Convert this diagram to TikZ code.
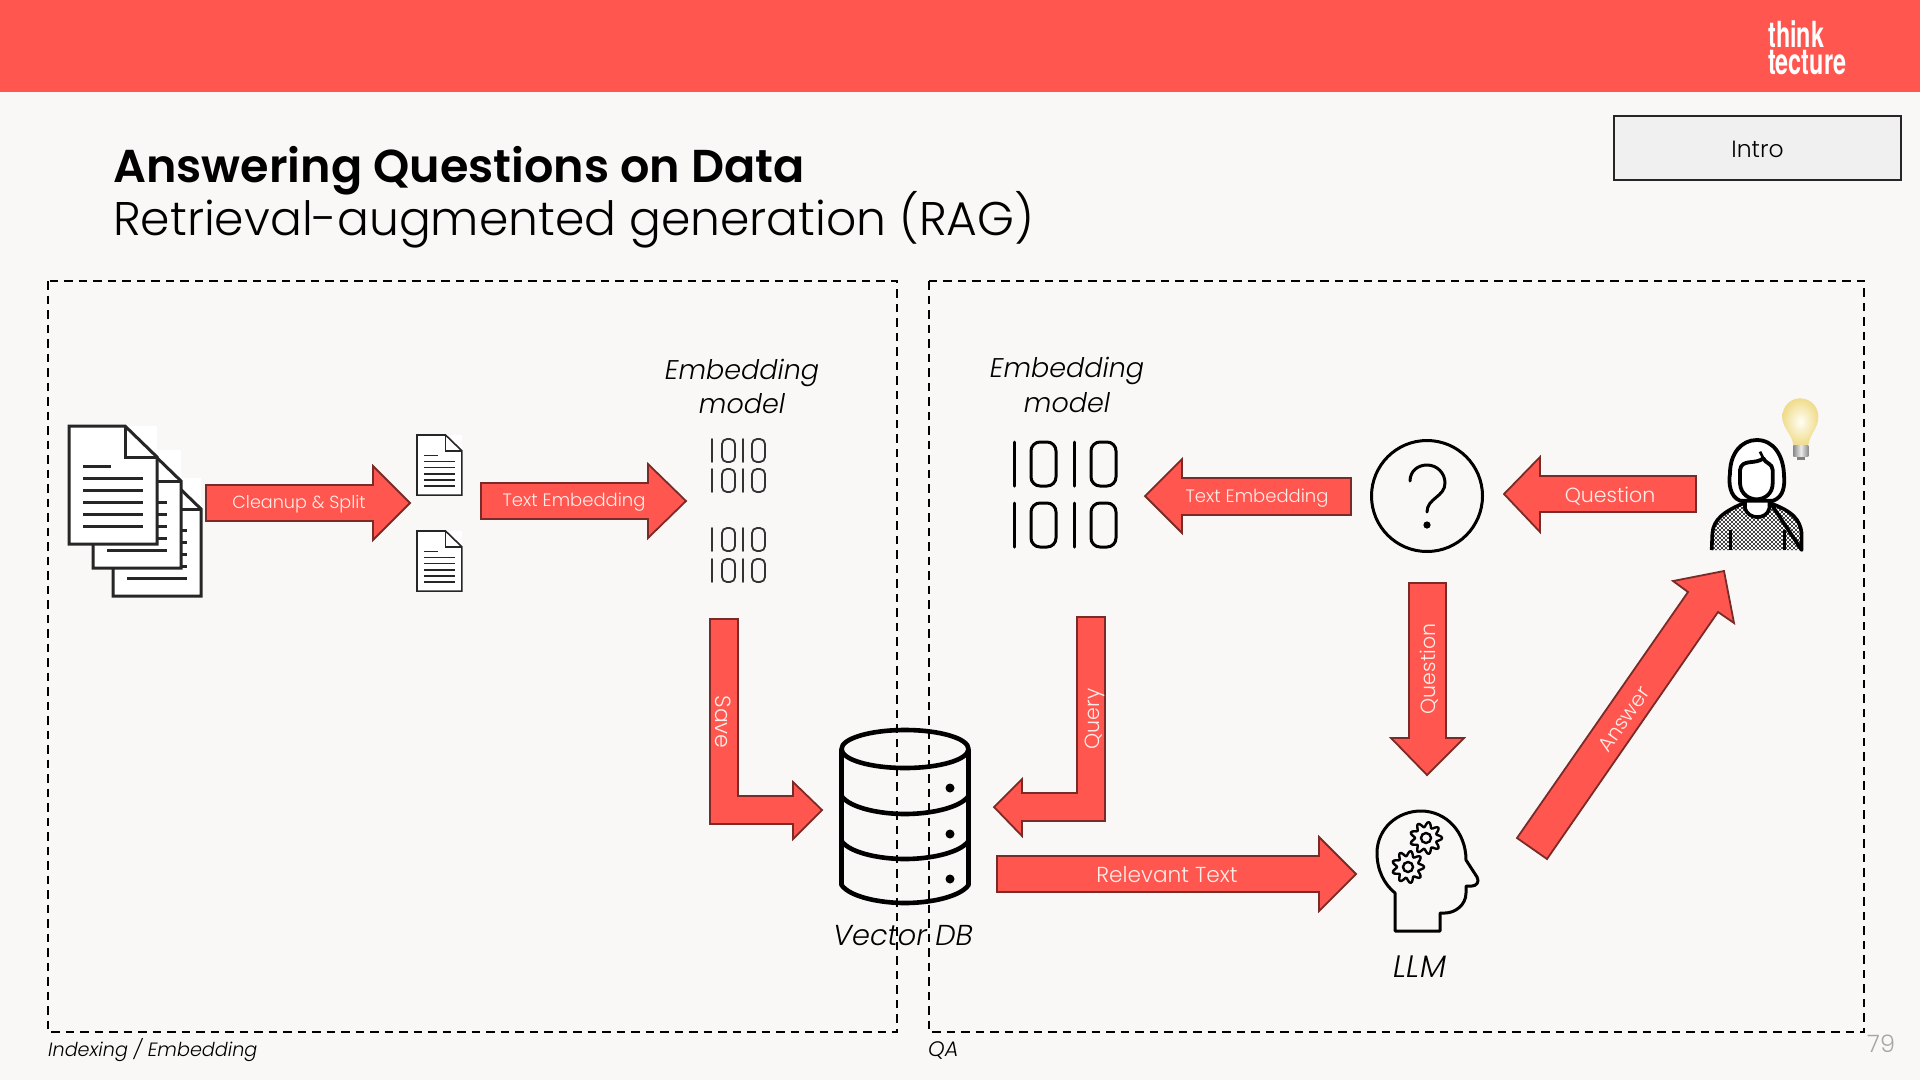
\documentclass[tikz,border=0pt]{standalone}
\usepackage{fontspec}
\setmainfont{Poppins Light}[ItalicFont=Poppins Light Italic,BoldFont=Poppins SemiBold]
\newfontfamily\logofont{TeX Gyre Heros}[Scale=1]
\definecolor{bgc}{HTML}{F9F8F6}
\definecolor{redc}{HTML}{FF5650}
\definecolor{redline}{HTML}{7A2B27}
\definecolor{txtc}{HTML}{FFEDE8}
\definecolor{boxc}{HTML}{F0F0F0}
\definecolor{bulbin}{HTML}{FFFEF4}
\definecolor{bulbout}{HTML}{F0DC8C}
\newcommand{\fs}[1]{\fontsize{#1}{#1}\selectfont}
\newcommand{\docicon}[4]{%
  \begin{scope}[shift={(#1,#2)},scale=#3,line width=#4,line join=miter,black!85]
    \fill[white] (0,0) rectangle (88,118);
    \draw (0,0) -- (56,0) -- (88,31) -- (88,118) -- (0,118) -- cycle;
    \draw (56,0) -- (56,31) -- (88,31);
    \draw (14,40) -- (42,40);
    \foreach \yy in {52,64,76,88,100} {\draw (14,\yy) -- (74,\yy);}
  \end{scope}}
\newcommand{\binrow}[9]{%
  \begin{scope}[line width=#9,line cap=round]
    \draw (#3,#1) -- (#3,#2);
    \draw (#6,#1) -- (#6,#2);
    \draw[rounded corners=#8pt] (#4,#1) rectangle (#5,#2);
    \draw[rounded corners=#8pt] (#7,#1) rectangle (#7+#5-#4,#2);
  \end{scope}}
\newcommand{\gearicon}[2]{%
  \draw[line width=2.4,line join=round] plot[smooth cycle,samples=72,domain=0:355] ({#1+(13.5+2.6*cos(9*\x))*cos(\x)},{#2+(13.5+2.6*cos(9*\x))*sin(\x)});
  \draw[line width=2.4] (#1,#2) circle[radius=5];}
\tikzset{
  blockarrow/.style={fill=redc,draw=redline,line width=1.8,line join=miter},
  arrowlabel/.style={text=txtc,inner sep=0pt,font=\fs{18}},
  iconline/.style={line width=3,line join=round,line cap=round},
  modellabel/.style={align=center,inner sep=0pt,font=\fs{27}\itshape},
  framebox/.style={draw=black,line width=2.8,dash pattern=on 8.5pt off 6pt}
}
\begin{document}
\begin{tikzpicture}[x=1pt,y=-1pt]
\useasboundingbox (0,0) rectangle (1920,1080);
\fill[bgc] (0,0) rectangle (1920,1080);
\fill[redc] (0,0) rectangle (1920,92);
% logo
\node[anchor=base west,inner sep=0pt,text=white] (logoa) at (1768,47) {\logofont\bfseries\fs{36}\scalebox{.65}[1]{think}};
\node[anchor=base west,inner sep=0pt,text=white] (logob) at (1768,74) {\logofont\bfseries\fs{36}\scalebox{.65}[1]{tecture}};
% titles
\node[anchor=base west,inner sep=0pt] (title) at (113,182) {\fs{46.1}\bfseries Answering Questions on Data};
\node[anchor=base west,inner sep=0pt] (subtitle) at (113,235) {\fs{47.2}Retrieval-augmented generation (RAG)};
\node[draw=black!85,fill=boxc,line width=2.6,minimum width=287,minimum height=64,inner sep=0pt] (intro) at (1757.5,148) {};
\node[inner sep=0pt,font=\fs{23.5}] (introtext) at (1757.5,149) {Intro};
% documents
\docicon{113}{478}{1}{3}
\docicon{93}{450}{1}{3}
\docicon{69}{426}{1}{3}
\docicon{417}{435}{.51}{1.6}
\docicon{417}{531}{.51}{1.6}
% small binaries
\begin{scope}[black!80]
\binrow{439}{462}{712}{722}{735}{743}{752}{5}{1.8}
\binrow{469}{492}{712}{722}{735}{743}{752}{5}{1.8}
\binrow{528}{551}{712}{722}{735}{743}{752}{5}{1.8}
\binrow{559}{582}{712}{722}{735}{743}{752}{5}{1.8}
\end{scope}
% large binaries
\binrow{442}{486}{1014}{1031}{1056}{1074}{1091}{9}{3}
\binrow{503}{547}{1014}{1031}{1056}{1074}{1091}{9}{3}
% labels
\node[modellabel,anchor=base] (ema) at (742,379) {Embedding};
\node[modellabel,anchor=base] (emb) at (742,413) {model};
\node[modellabel,anchor=base] (emc) at (1067,377) {Embedding};
\node[modellabel,anchor=base] (emd) at (1067,412) {model};
\node[modellabel,anchor=base,font=\fs{28.8}\itshape] (vdb) at (903,945) {Vector DB};
\node[modellabel,anchor=base,font=\fs{31}\itshape] (llm) at (1420,977) {LLM};
\node[anchor=base west,inner sep=0pt,font=\fs{19.2}\itshape] (lefttag) at (48,1056) {Indexing / Embedding};
\node[anchor=base west,inner sep=0pt,font=\fs{21}\itshape] (righttag) at (928,1056) {QA};
\node[anchor=base west,inner sep=0pt,font=\fs{24},text=black!35] (pageno) at (1867,1052) {79};
% block arrows
\draw[blockarrow] (206,485) -- (373,485) -- (373,466) -- (410,503) -- (373,540) -- (373,521) -- (206,521) -- cycle;
\node[arrowlabel,font=\fs{17.6}] (cleanup) at (299,504) {Cleanup \& Split};
\draw[blockarrow] (481,483) -- (648,483) -- (648,464) -- (686,501) -- (648,538) -- (648,519) -- (481,519) -- cycle;
\node[arrowlabel] (te1) at (574,502) {Text Embedding};
\draw[blockarrow] (710,619) -- (738,619) -- (738,796) -- (793,796) -- (793,782) -- (822,810) -- (793,839) -- (793,824) -- (710,824) -- cycle;
\node[arrowlabel,font=\fs{22},rotate=-90] (save) at (723,722) {Save};
\draw[blockarrow] (1105,617) -- (1077,617) -- (1077,793) -- (1022,793) -- (1022,779) -- (994,807) -- (1022,836) -- (1022,821) -- (1105,821) -- cycle;
\node[arrowlabel,font=\fs{20.5},rotate=90] (query) at (1095,719) {Query};
\draw[blockarrow] (997,856) -- (1319,856) -- (1319,837) -- (1356,874) -- (1319,911) -- (1319,892) -- (997,892) -- cycle;
\node[arrowlabel,font=\fs{21.7}] (rel) at (1167,875) {Relevant Text};
\draw[blockarrow] (1351,478) -- (1182,478) -- (1182,459) -- (1145,496) -- (1182,533) -- (1182,515) -- (1351,515) -- cycle;
\node[arrowlabel] (te2) at (1257,498) {Text Embedding};
\draw[blockarrow] (1696,476) -- (1540,476) -- (1540,457) -- (1504,494) -- (1540,532) -- (1540,512) -- (1696,512) -- cycle;
\node[arrowlabel,font=\fs{20.5}] (q1) at (1610,496) {Question};
\draw[blockarrow] (1409,583) -- (1446,583) -- (1446,738) -- (1464,738) -- (1427,775) -- (1391,738) -- (1409,738) -- cycle;
\node[arrowlabel,font=\fs{20.5},rotate=90] (q2) at (1429,669) {Question};
\draw[blockarrow] (1517,838) -- (1688,592) -- (1673,581) -- (1724,571) -- (1734,623) -- (1718,612) -- (1547,859) -- cycle;
\node[arrowlabel,font=\fs{20.5},rotate=55] (ans) at (1624,719) {Answer};
% database
\begin{scope}[line width=4.6,line join=round]
\draw (905,749) ellipse[x radius=63.5,y radius=19];
\draw (841.5,749) -- (841.5,885) .. controls (850,897) and (880,903) .. (905,903) .. controls (930,903) and (960,897) .. (968.5,885) -- (968.5,749);
\draw (841.5,796) .. controls (850,808) and (880,814) .. (905,814) .. controls (930,814) and (960,808) .. (968.5,796);
\draw (841.5,841) .. controls (850,853) and (880,859) .. (905,859) .. controls (930,859) and (960,853) .. (968.5,841);
\fill (950,788) circle[radius=4.5];
\fill (950,834) circle[radius=4.5];
\fill (950,879) circle[radius=4.5];
\end{scope}
% question icon
\draw[iconline] (1427,496) circle[radius=55.5];
\draw[iconline] (1410,481) .. controls (1410,471) and (1418,465) .. (1427,465) .. controls (1437,465) and (1445,473) .. (1445,483) .. controls (1445,497) and (1427,498) .. (1427,512);
\fill (1427,525) circle[radius=3.6];
% head with gears
\draw[iconline] (1395,931) -- (1395,893) .. controls (1384,884) and (1377,870) .. (1377,853) .. controls (1377,829) and (1397,811) .. (1421,811) .. controls (1446,811) and (1466,832) .. (1466,860) -- (1477,877) .. controls (1480,882) and (1476,886) .. (1472,886) -- (1466,886) -- (1466,893) .. controls (1466,905) and (1455,913) .. (1445,913) -- (1440,913) -- (1440,931) -- cycle;
\gearicon{1426}{838}
\gearicon{1408}{867}
% person
\begin{scope}[shift={(1680,380)},scale=1/3]
  \fill[white] (95,510) -- (97,460) .. controls (100,420) and (130,395) .. (190,370) -- (272,370) .. controls (340,395) and (360,420) .. (365,460) -- (365,510) -- cycle;
  \begin{scope}
    \clip (95,510) -- (97,460) .. controls (100,420) and (130,395) .. (190,370) -- (272,370) .. controls (340,395) and (360,420) .. (365,460) -- (365,510) -- cycle;
    \foreach \yy in {360,372,...,516} {
      \foreach \xx in {90,102,...,372} {
        \fill (\xx,\yy) circle[radius=3.1];
        \fill (\xx+6,\yy+6) circle[radius=3.1];
      }
    }
  \end{scope}
  \draw[line width=3.6,line join=round] (95,510) -- (97,460) .. controls (100,420) and (130,395) .. (190,370) (272,370) .. controls (340,395) and (360,420) .. (365,460) -- (365,510) -- cycle;
  \draw[line width=3] (150,450) -- (150,510) (312,450) -- (312,510);
  \draw[fill=white,line width=3.6,line join=round] (195,345) -- (195,385) .. controls (205,420) and (260,420) .. (268,385) -- (268,345) -- cycle;
  \draw[fill=white,line width=3.8,line join=round] (180,362) .. controls (150,350) and (145,310) .. (150,280) .. controls (150,220) and (185,180) .. (230,180) .. controls (280,180) and (310,225) .. (312,285) .. controls (315,320) and (310,350) .. (280,362) -- cycle;
  \draw[fill=white,line width=3.8,line join=round] (180,270) .. controls (185,235) and (225,255) .. (250,235) .. controls (255,250) and (278,250) .. (278,270) -- (278,310) .. controls (278,340) and (255,358) .. (230,358) .. controls (210,358) and (182,345) .. (180,310) -- cycle;
  \draw[line width=2.6] (240,215) -- (250,235);
  % bulb
  \shade[inner color=bulbin,outer color=bulbout] (340,195) .. controls (335,160) and (307,145) .. (307,110) .. controls (307,78) and (332,55) .. (360,55) .. controls (390,55) and (415,78) .. (415,110) .. controls (415,145) and (390,160) .. (385,195) -- cycle;
  \shade[left color=black!45,right color=black!45,middle color=black!8] (340,195) rectangle (385,230);
  \fill[black!50] (350,230) rectangle (375,241);
\end{scope}
% frames
\draw[framebox] (48,281) rectangle (897,1032);
\draw[framebox] (929,281) rectangle (1864,1032);
\end{tikzpicture}
\end{document}
